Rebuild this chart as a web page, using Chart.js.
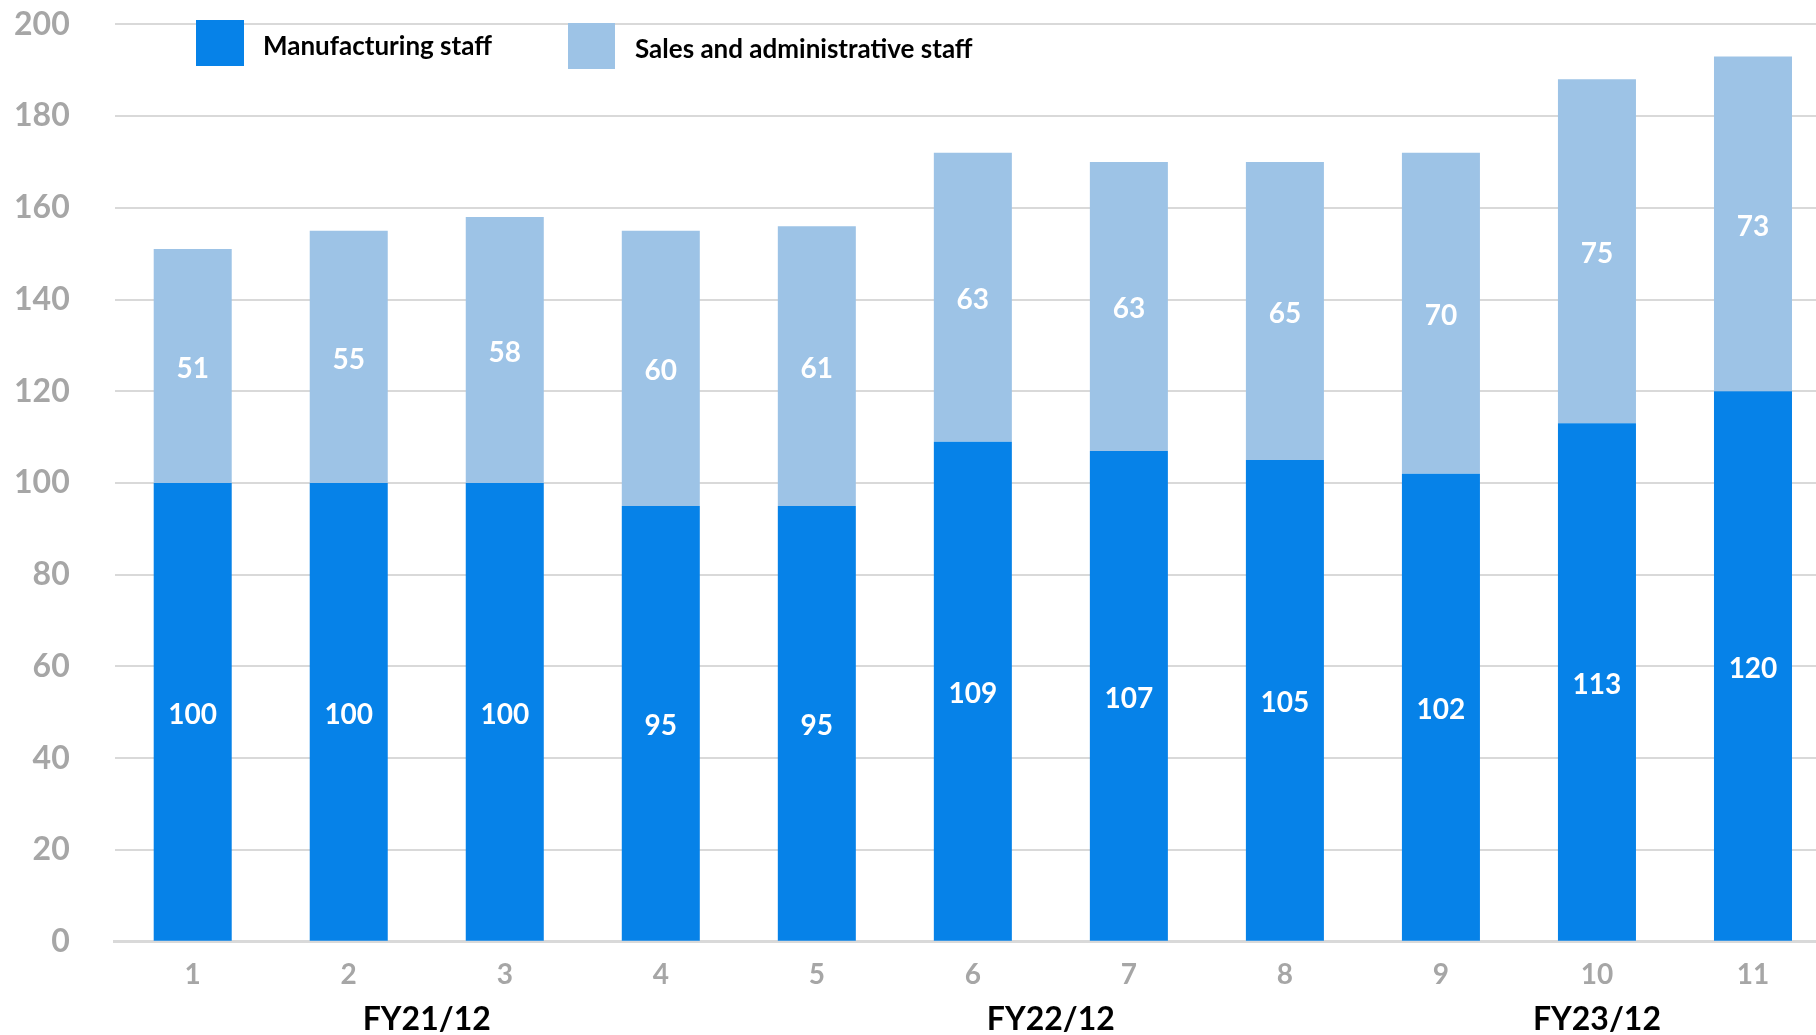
<!DOCTYPE html>
<html>
<head>
<meta charset="utf-8">
<title>Headcount by month</title>
<script src="https://cdn.jsdelivr.net/npm/chart.js@4.4.1/dist/chart.umd.min.js"></script>
<style>
  html, body { margin: 0; padding: 0; background: #ffffff; overflow: hidden; }
  #wrap { position: relative; width: 1831px; height: 1035px; }
</style>
</head>
<body>
<div id="wrap"><canvas id="chart"></canvas></div>
<script>
// Month numbers along the x axis
const months = ['1', '2', '3', '4', '5', '6', '7', '8', '9', '10', '11'];

// Headcount per month
const manufacturingStaff = [100, 100, 100, 95, 95, 109, 107, 105, 102, 113, 120];
const salesAdminStaff = [51, 55, 58, 60, 61, 63, 63, 65, 70, 75, 73];

// Fiscal-year captions under the month numbers
const fiscalYears = ['FY21/12', 'FY22/12', 'FY23/12'];

// Value axis ticks
const yTicks = [0, 20, 40, 60, 80, 100, 120, 140, 160, 180, 200];

const FONT = 'Lato, "Open Sans", "Liberation Sans", sans-serif';
const DARK_BLUE = '#0682E8';
const LIGHT_BLUE = '#9DC3E6';
const GRID = '#D9D9D9';
const TICK_GREY = '#A6A6A6';

// White value labels centred in each stacked segment
const segmentLabels = {
  id: 'segmentLabels',
  afterDatasetsDraw(chart) {
    const ctx = chart.ctx;
    ctx.save();
    ctx.fillStyle = '#ffffff';
    ctx.font = 'bold 28px ' + FONT;
    ctx.textAlign = 'center';
    ctx.textBaseline = 'middle';
    chart.data.datasets.forEach((ds, di) => {
      const meta = chart.getDatasetMeta(di);
      meta.data.forEach((bar, i) => {
        const v = ds.data[i];
        ctx.fillText(String(v), bar.x, (bar.y + bar.base) / 2 + 3);
      });
    });
    ctx.restore();
  }
};

// Legend with large square swatches laid over the top of the plot
const squareLegend = {
  id: 'squareLegend',
  afterDraw(chart) {
    const ctx = chart.ctx;
    const items = [
      { box: [196, 20, 48, 46], textX: 263, textY: 47 },
      { box: [568, 23, 47, 46], textX: 635, textY: 50 }
    ];
    ctx.save();
    ctx.font = 'bold 26px ' + FONT;
    ctx.textAlign = 'left';
    ctx.textBaseline = 'middle';
    chart.data.datasets.forEach((ds, i) => {
      const it = items[i];
      ctx.fillStyle = ds.backgroundColor;
      ctx.fillRect(it.box[0], it.box[1], it.box[2], it.box[3]);
      ctx.fillStyle = '#000000';
      ctx.fillText(ds.label, it.textX, it.textY);
    });
    ctx.restore();
  }
};

// Fiscal-year captions placed along the category scale
const fiscalYearCaptions = {
  id: 'fiscalYearCaptions',
  afterDraw(chart) {
    const anchors = [1.5, 5.5, 9];
    const x = chart.scales.x;
    const ctx = chart.ctx;
    ctx.save();
    ctx.font = 'bold 32px ' + FONT;
    ctx.fillStyle = '#000000';
    ctx.textAlign = 'center';
    ctx.textBaseline = 'middle';
    fiscalYears.forEach((label, i) => {
      ctx.fillText(label, x.getPixelForValue(anchors[i]), 1020);
    });
    ctx.restore();
  }
};

new Chart(document.getElementById('chart'), {
  type: 'bar',
  data: {
    labels: months,
    datasets: [
      {
        label: 'Manufacturing staff',
        data: manufacturingStaff,
        backgroundColor: DARK_BLUE,
        borderWidth: 0
      },
      {
        label: 'Sales and administrative staff',
        data: salesAdminStaff,
        backgroundColor: LIGHT_BLUE,
        borderWidth: 0
      }
    ]
  },
  options: {
    responsive: true,
    maintainAspectRatio: false,
    animation: false,
    layout: { padding: { top: 24.3, right: 0, bottom: 0, left: 0 } },
    datasets: {
      bar: { categoryPercentage: 1.0, barPercentage: 0.5 }
    },
    plugins: {
      legend: { display: false },
      tooltip: { enabled: false }
    },
    scales: {
      x: {
        stacked: true,
        grid: { display: false, drawTicks: false },
        border: { display: true, color: GRID, width: 3 },
        ticks: {
          color: TICK_GREY,
          font: { family: FONT, size: 28, weight: 'bold' },
          padding: 16
        },
        afterFit(scale) {
          scale.height = 93.3;
          scale.paddingLeft = 0;
          scale.paddingRight = 0;
        }
      },
      y: {
        stacked: true,
        min: 0,
        max: 200,
        grid: { color: GRID, lineWidth: 2, drawTicks: false },
        border: { display: false },
        afterBuildTicks(scale) { scale.ticks = yTicks.map(v => ({ value: v })); },
        ticks: {
          color: TICK_GREY,
          font: { family: FONT, size: 32, weight: 'bold' },
          padding: 45
        },
        afterFit(scale) {
          scale.width = 114.7;
          scale.paddingTop = 0;
          scale.paddingBottom = 0;
        }
      }
    }
  },
  plugins: [segmentLabels, squareLegend, fiscalYearCaptions]
});
</script>
</body>
</html>
